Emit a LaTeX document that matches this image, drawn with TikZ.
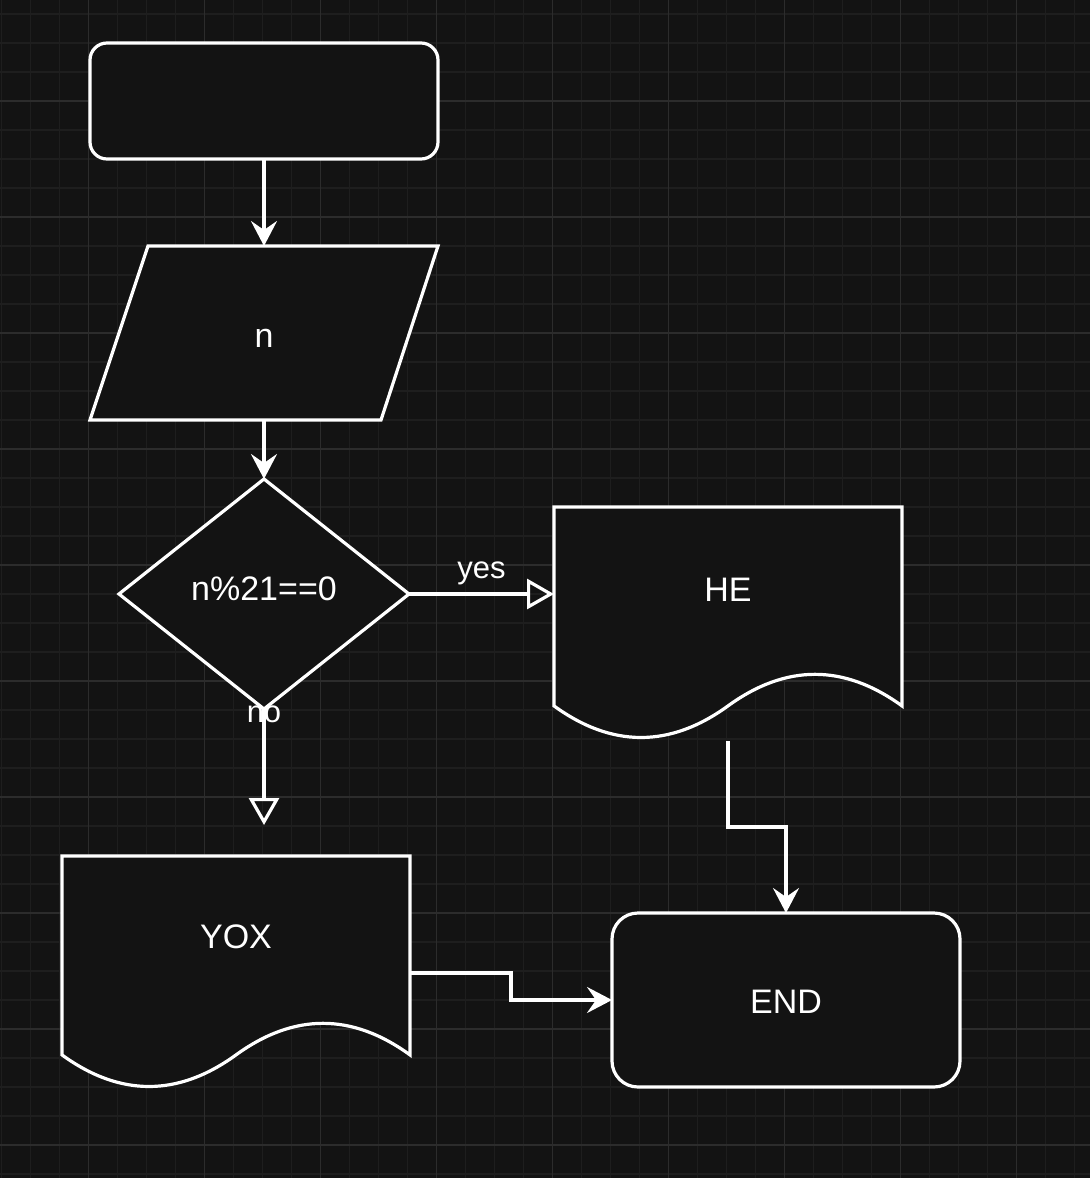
\documentclass[tikz,border=0pt]{standalone}
\usepackage{fontspec}
\setmainfont{Liberation Sans}
\usetikzlibrary{arrows.meta,calc,backgrounds}
\definecolor{bgc}{RGB}{19,19,19}
\definecolor{gminor}{RGB}{30,30,30}
\definecolor{gmajor}{RGB}{44,44,44}
\begin{document}
\begin{tikzpicture}[x=1pt,y=-1pt,
  box/.style={inner sep=0pt, outer sep=0pt, text=white, font=\fontsize{34}{40}\selectfont},
  shp/.style={draw=white, fill=bgc, line width=3.2pt, line join=miter},
  conn/.style={draw=white, line width=3.2pt},
  cls/.style={-{Stealth[length=25pt,width=26pt,inset=9pt]}},
  opn/.style={-{Triangle[open,length=27pt,width=30pt]}},
  lbl/.style={text=white, font=\fontsize{31}{36}\selectfont, inner sep=0pt},
  minorline/.style={draw=gminor, line width=1.2pt},
  majorline/.style={draw=gmajor, line width=1.5pt}
]
\useasboundingbox (0,0) rectangle (1090,1178);
\begin{scope}[on background layer]
  \fill[bgc] (0,0) rectangle (1090,1178);
  \foreach \i in {0,...,37} \draw[minorline] ({1.7+29*\i},0) -- ({1.7+29*\i},1178);
  \foreach \i in {0,...,40} \draw[minorline] (0,{14+29*\i}) -- (1090,{14+29*\i});
  \foreach \i in {0,...,8} \draw[majorline] ({88.7+116*\i},0) -- ({88.7+116*\i},1178);
  \foreach \i in {0,...,9} \draw[majorline] (0,{101+116*\i}) -- (1090,{101+116*\i});
\end{scope}

\node[box, minimum width=348pt, minimum height=116pt, anchor=north west] (start) at (90,43) {};
\node[box, minimum width=348pt, text height=101pt, text depth=73pt, anchor=north west] (inp) at (90,246) {n};
\node[box, minimum width=290pt, text height=121pt, text depth=109pt, anchor=north west] (dia) at (119,479) {n\%21==0};
\node[box, minimum width=348pt, text height=94pt, text depth=140pt, anchor=north west] (he) at (554,507) {HE};
\node[box, minimum width=348pt, text height=92pt, text depth=142pt, anchor=north west] (yox) at (62,856) {YOX};
\node[box, minimum width=348pt, text height=100pt, text depth=74pt, anchor=north west] (end) at (612,913) {END};

\begin{scope}[on background layer]
  \draw[shp, rounded corners=17pt] (start.north west) rectangle (start.south east);
  \draw[shp] ($(inp.north west)+(58,0)$) -- (inp.north east) -- ($(inp.south east)+(-57,0)$) -- (inp.south west) -- cycle;
  \draw[shp] (dia.north) -- (dia.east) -- (dia.south) -- (dia.west) -- cycle;
  \draw[shp, shift={(he.north west)}] (0,0) -- (348,0) -- (348,198.9) .. controls (290,156.8) and (232,156.8) .. (174,198.9) .. controls (116,241) and (58,241) .. (0,198.9) -- cycle;
  \draw[shp, shift={(yox.north west)}] (0,0) -- (348,0) -- (348,198.9) .. controls (290,156.8) and (232,156.8) .. (174,198.9) .. controls (116,241) and (58,241) .. (0,198.9) -- cycle;
  \draw[shp, rounded corners=26pt] (end.north west) rectangle (end.south east);
\end{scope}

\coordinate (noend) at (264,825);
\draw[conn, cls] (start.south) -- (inp.north);
\draw[conn, cls] (inp.south) -- (dia.north);
\draw[conn, opn] (dia.east) -- node[lbl, midway, anchor=base, yshift=16pt] {yes} (he.west |- dia.east);
\draw[conn, opn] (dia.south) -- node[lbl, at start, anchor=base, yshift=-13pt] {no} (noend);
\draw[conn, cls] (he.south) -- ++(0,86) -| (end.north);
\draw[conn, cls] (yox.east) -- ++(101,0) |- (end.west);
\end{tikzpicture}
\end{document}
